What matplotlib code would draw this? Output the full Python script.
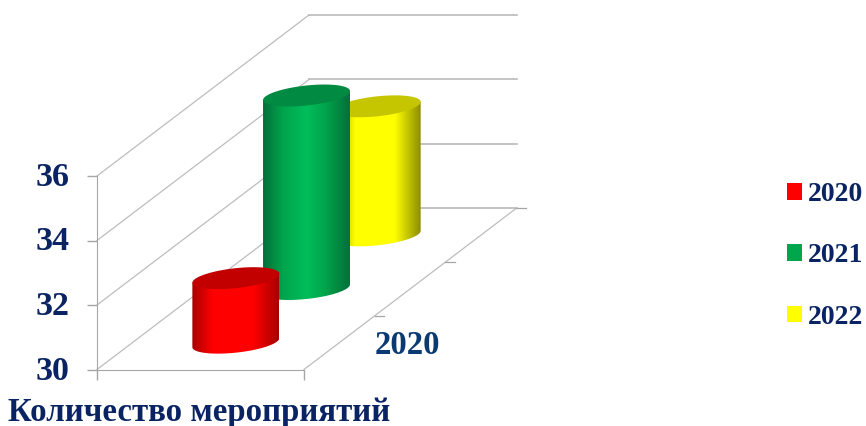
import numpy as np
import matplotlib
matplotlib.use("Agg")
import matplotlib.pyplot as plt
from matplotlib.colors import LinearSegmentedColormap
from matplotlib.patches import Patch, PathPatch, Polygon
from matplotlib.path import Path
from matplotlib.transforms import Affine2D

# Datos
series = ["2020", "2021", "2022"]
valores = [32, 36, 34]
ticks_y = [30, 32, 34, 36]
categoria = "2020"
titulo_x = "Количество мероприятий"

# Estilo
colores = ["#ff0000", "#00a64c", "#ffff00"]
tapas = ["#c20000", "#008a42", "#c6c600"]
bordes = ["#a80000", "#05703a", "#8c8c00"]
centros = ["#ff0000", "#00bd5a", "#ffff00"]
color_texto = "#0a2463"
color_eje = "#a6a6a6"
color_rejilla = "#bdbdbd"

plt.rcParams["font.family"] = ["Liberation Serif", "DejaVu Serif"]
plt.rcParams["font.weight"] = "bold"

W, H, DPI = 866, 426, 100
fig = plt.figure(figsize=(W / DPI, H / DPI), dpi=DPI)
ax = fig.add_axes([97 / W, (H - 369.5) / H, 207 / W, 193.5 / H])
ax.set_xlim(0, 1)
ax.set_ylim(30, 36)
ax.patch.set_visible(False)

# Plano frontal
ax.spines["top"].set_visible(False)
ax.spines["right"].set_visible(False)
ax.spines["left"].set_color(color_eje)
ax.spines["bottom"].set_color(color_eje)
ax.set_yticks(ticks_y)
ax.set_xticks([0, 1])
ax.set_xticklabels([])
ax.tick_params(axis="y", length=7, width=1, color=color_eje, pad=12.5,
               labelsize=24.5, labelcolor=color_texto)
ax.tick_params(axis="x", length=7, width=1, color=color_eje)
ax.set_xlabel(titulo_x, x=-0.43, ha="left", fontsize=23.7, color=color_texto,
              labelpad=9, fontweight="bold")
for etiqueta in ax.get_yticklabels():
    etiqueta.set_transform(etiqueta.get_transform() + Affine2D().translate(0, 2))

# Desplazamiento en pixeles por cada serie en profundidad
PASO_X = 70.67
PASO_Y = 53.67


def prof(d):
    return ax.transData + Affine2D().translate(PASO_X * d, PASO_Y * d)


def linea_fondo(x, v, d):
    # Linea desde el plano frontal hasta la profundidad d, en coordenadas de datos
    p0 = ax.transData.transform((x, v))
    p1 = prof(d).transform((x, v))
    return ax.transData.inverted().transform([p0, p1]).T


# Rejilla de paredes y piso
n = len(series)
for v in ticks_y:
    xs, ys = linea_fondo(0, v, n)
    ax.plot(xs, ys, color=color_rejilla, lw=0.9, clip_on=False, zorder=1)
    ax.plot([0, 1.005], [v, v], color="#b4b4b4", lw=1.1, clip_on=False,
            transform=prof(n), zorder=1)

xs, ys = linea_fondo(1, 30, n)
ax.plot(xs, ys, color=color_rejilla, lw=0.9, clip_on=False, zorder=1)
for d in range(1, n + 1):
    ax.plot([1, 1.047], [30, 30], color=color_eje, lw=0.9, clip_on=False,
            transform=prof(d), zorder=1)


def elipse(v, t):
    # Base circular proyectada, inclinada por la perspectiva
    x = 0.5 + 0.21 * np.cos(t)
    y = v + 0.14 * np.cos(t) + 0.31 * np.sin(t)
    return np.column_stack([x, y])


# Cilindros de atras hacia adelante
for i in range(n - 1, -1, -1):
    tr = prof(i + 0.5)
    v = valores[i]
    t_base = np.linspace(np.pi, 2 * np.pi, 60)
    t_tapa = np.linspace(0, 2 * np.pi, 120)
    izq = elipse(v, np.array([np.pi]))
    der = elipse(v, np.array([0.0]))
    cuerpo = np.vstack([izq, elipse(30, t_base), der])
    camino = Path(np.vstack([cuerpo, cuerpo[0]]), closed=True)
    parche = PathPatch(camino, transform=tr, facecolor="none", edgecolor="none")
    ax.add_patch(parche)

    cmap = LinearSegmentedColormap.from_list(
        "c" + series[i],
        [(0, bordes[i]), (0.24, colores[i]), (0.5, centros[i]),
         (0.7, colores[i]), (1, bordes[i])])
    grad = np.linspace(0, 1, 256).reshape(1, -1)
    img = ax.imshow(grad, cmap=cmap, aspect="auto", interpolation="bilinear",
                    extent=(0.29, 0.71, 29, 37), transform=tr, zorder=3 + (n - i))
    img.set_clip_path(parche)
    img.set_clip_box(fig.bbox)
    tapa = Polygon(elipse(v, t_tapa), closed=True, transform=tr,
                   facecolor=tapas[i], edgecolor="none", zorder=3.5 + (n - i),
                   clip_on=False)
    ax.add_patch(tapa)

ax.set_xlim(0, 1)
ax.set_ylim(30, 36)

# Etiqueta de la serie en profundidad
ax.annotate(categoria, xy=(1, 30), xycoords=prof(0.5), xytext=(49, -2),
            textcoords="offset points", ha="center", va="center", fontsize=23.6,
            color="#0b3a73", fontweight="bold", annotation_clip=False)

# Leyenda
manejadores = [Patch(facecolor=c, edgecolor="none") for c in colores]
fig.legend(manejadores, series, loc="center left",
           bbox_to_anchor=(779 / W, (H - 256) / H), frameon=False, fontsize=20,
           labelcolor=color_texto, handlelength=0.54, handleheight=0.54,
           handletextpad=0.2, labelspacing=1.3, borderpad=0, borderaxespad=0.3)

plt.savefig("out.png", dpi=DPI)
